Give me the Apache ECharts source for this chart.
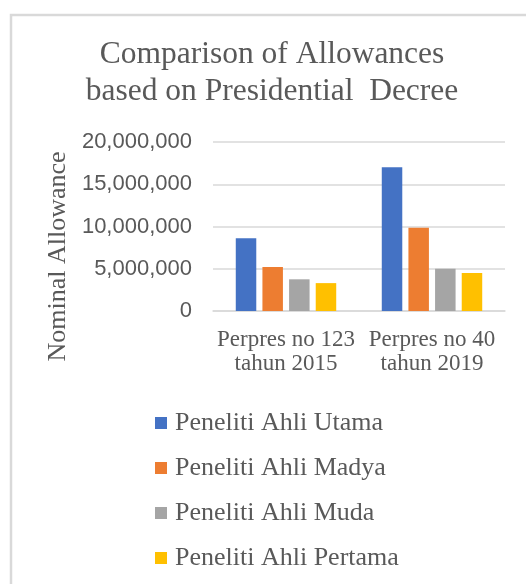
<!DOCTYPE html>
<html>
<head>
<meta charset="utf-8">
<script src="https://cdn.jsdelivr.net/npm/echarts@6/dist/echarts.min.js"></script>
<style>
html,body{margin:0;padding:0;background:#fff;}
#c{width:526px;height:584px;}
</style>
</head>
<body>
<div id="c"></div>
<script>
var categories = ['Perpres no 123\ntahun 2015', 'Perpres no 40\ntahun 2019'];
var seriesNames = ['Peneliti Ahli Utama', 'Peneliti Ahli Madya', 'Peneliti Ahli Muda', 'Peneliti Ahli Pertama'];
var utama = [8600000, 17000000];
var madya = [5200000, 9850000];
var muda = [3750000, 5000000];
var pertama = [3300000, 4500000];
var colors = ['#4472C4', '#ED7D31', '#A5A5A5', '#FFC000'];
var yTicks = [0, 5000000, 10000000, 15000000, 20000000];

var serif = '"Liberation Serif", "DejaVu Serif", serif';
var sans = '"Liberation Sans", Arial, sans-serif';
var values = [utama, madya, muda, pertama];

var chart = echarts.init(document.getElementById('c'));
chart.setOption({
  animation: false,
  backgroundColor: '#fff',
  graphic: [{
    type: 'rect',
    shape: {x: 11, y: 15, width: 530, height: 600},
    style: {fill: 'none', stroke: '#d9d9d9', lineWidth: 2.5},
    silent: true
  }],
  title: {
    text: 'Comparison of Allowances\nbased on Presidential  Decree',
    left: 272,
    top: 36,
    padding: 0,
    textAlign: 'center',
    textStyle: {fontFamily: serif, fontSize: 31.5, lineHeight: 37, fontWeight: 'normal', color: '#595959'}
  },
  grid: {left: 213, right: 21, top: 142, bottom: 273, containLabel: false},
  legend: {
    orient: 'vertical',
    left: 150,
    top: 405,
    itemWidth: 12,
    itemHeight: 12,
    itemGap: 19,
    icon: 'rect',
    textStyle: {fontFamily: serif, fontSize: 26, color: '#595959', padding: [0, 0, 0, 3]},
    data: seriesNames
  },
  xAxis: {
    type: 'category',
    data: categories,
    axisLine: {show: true, lineStyle: {color: '#d9d9d9', width: 1.5}},
    axisTick: {show: false},
    axisLabel: {fontFamily: serif, fontSize: 23, lineHeight: 24, color: '#595959', margin: 17, interval: 0}
  },
  yAxis: {
    type: 'value',
    min: yTicks[0],
    max: yTicks[yTicks.length - 1],
    interval: yTicks[1] - yTicks[0],
    name: 'Nominal Allowance',
    nameLocation: 'middle',
    nameGap: 137,
    nameRotate: 90,
    nameTextStyle: {fontFamily: serif, fontSize: 26, color: '#595959', padding: [0, 60, 0, 0]},
    axisLine: {show: false},
    axisTick: {show: false},
    splitLine: {lineStyle: {color: '#d9d9d9', width: 1.5}},
    axisLabel: {
      fontFamily: sans, fontSize: 22, color: '#595959', margin: 21,
      formatter: function (v) { return v.toLocaleString('en-US'); }
    }
  },
  series: seriesNames.map(function (n, i) {
    return {
      name: n,
      type: 'bar',
      data: values[i],
      barWidth: 20.5,
      barGap: '30%',
      itemStyle: {color: colors[i]}
    };
  })
});
</script>
</body>
</html>
